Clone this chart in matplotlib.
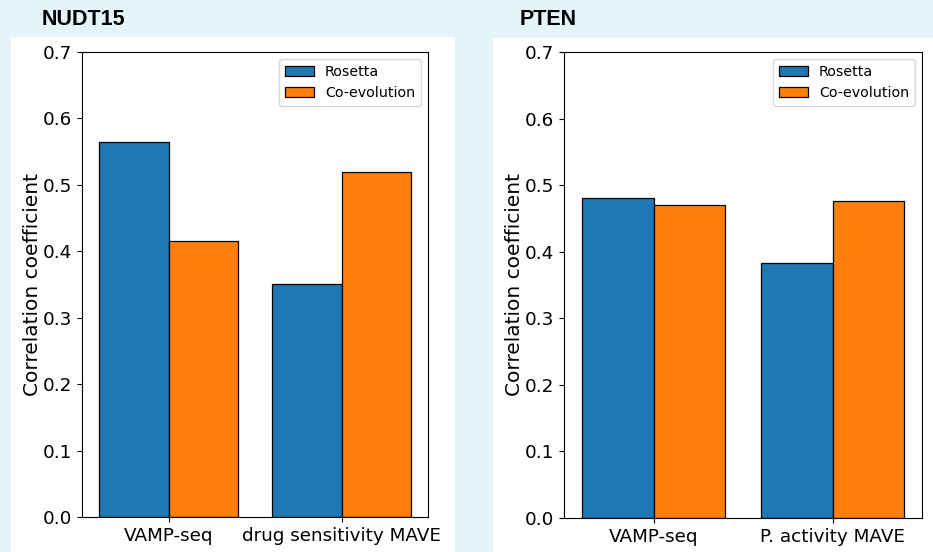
import matplotlib
matplotlib.use("Agg")
import matplotlib.pyplot as plt
from matplotlib.patches import Rectangle
import numpy as np

# Data
nudt_categories = ["VAMP-seq", "drug sensitivity MAVE"]
nudt_rosetta = [0.565, 0.351]
nudt_coevo = [0.415, 0.519]

pten_categories = ["VAMP-seq", "P. activity MAVE"]
pten_rosetta = [0.481, 0.383]
pten_coevo = [0.470, 0.476]

series_names = ["Rosetta", "Co-evolution"]
yticks = [0.0, 0.1, 0.2, 0.3, 0.4, 0.5, 0.6, 0.7]

plt.rcParams["font.family"] = ["DejaVu Sans"]

W, H = 933, 552
fig = plt.figure(figsize=(W / 100, H / 100), dpi=100)
fig.patch.set_facecolor("#e5f3fb")

def px_rect(x0, y0, x1, y1):
    return [x0 / W, (H - y1) / H, (x1 - x0) / W, (y1 - y0) / H]

# white panels
for (x0, y0, x1, y1) in [(11, 37, 455, 552), (493, 38, 933, 552)]:
    l, b, w, h = px_rect(x0, y0, x1, y1)
    fig.patches.append(Rectangle((l, b), w, h, transform=fig.transFigure,
                                 facecolor="white", edgecolor="none", zorder=-5))

fig.text(42 / W, 1 - 25 / H, "NUDT15", fontsize=15.5, fontweight="bold",
         family="Liberation Sans", ha="left", va="baseline")
fig.text(520 / W, 1 - 25 / H, "PTEN", fontsize=15.5, fontweight="bold",
         family="Liberation Sans", ha="left", va="baseline")

def draw(ax, cats, ros, coe):
    x = np.arange(len(cats))
    w = 0.4
    ax.bar(x - w / 2, ros, w, color="#1f77b4", edgecolor="black", linewidth=0.9, label=series_names[0])
    ax.bar(x + w / 2, coe, w, color="#ff7f0e", edgecolor="black", linewidth=0.9, label=series_names[1])
    ax.set_xlim(-0.5, 1.5)
    ax.set_ylim(0, 0.7)
    ax.set_yticks(yticks)
    ax.set_yticklabels([f"{t:.1f}" for t in yticks])
    ax.set_xticks(x)
    ax.set_xticklabels(cats)
    ax.tick_params(labelsize=13.2)
    ax.set_ylabel("Correlation coefficient", fontsize=14.5, labelpad=0.5)
    ax.legend(loc="upper right", fontsize=10.3)
    ax.set_facecolor("white")

ax1 = fig.add_axes(px_rect(82, 52, 428, 517), zorder=2)
draw(ax1, nudt_categories, nudt_rosetta, nudt_coevo)
ax2 = fig.add_axes(px_rect(564, 52, 922, 518), zorder=2)
draw(ax2, pten_categories, pten_rosetta, pten_coevo)

fig.savefig("out.png", dpi=100, facecolor=fig.get_facecolor())
